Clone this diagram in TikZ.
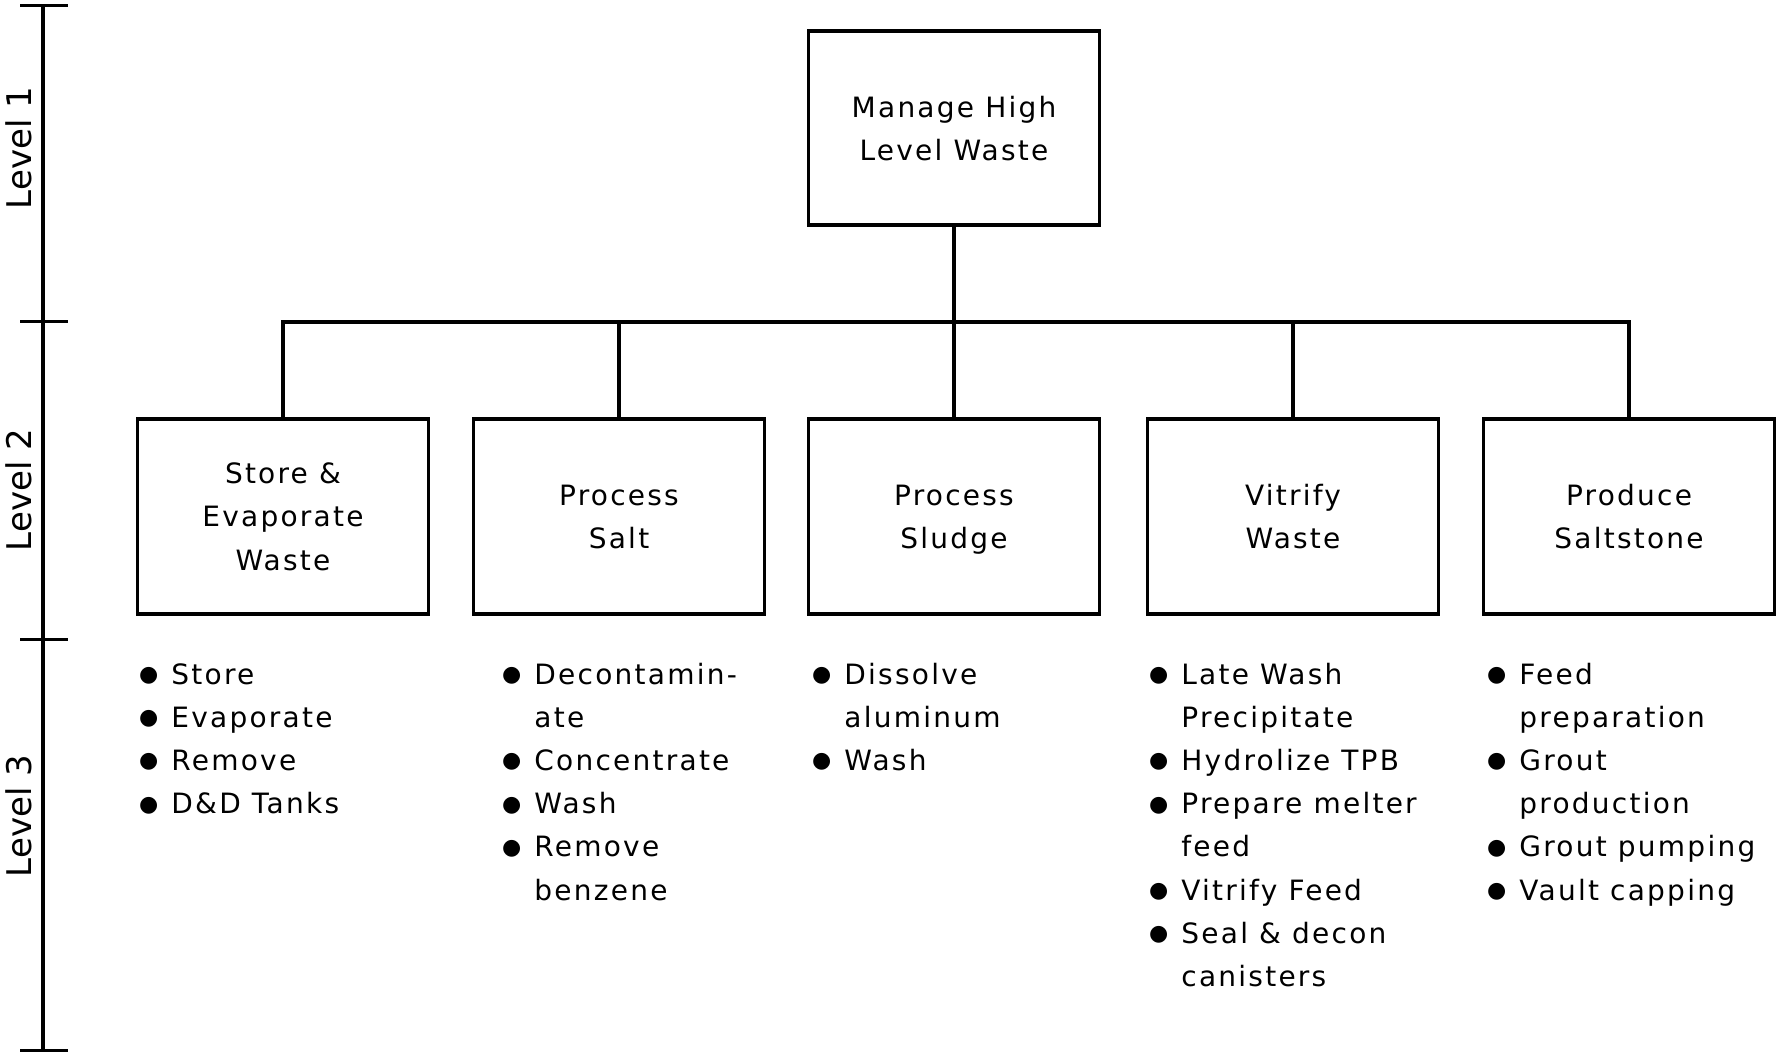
\documentclass[tikz,border=0pt]{standalone}
\usepackage{fontspec}
\setmainfont{DejaVu Sans}[LetterSpace=8]
\newfontfamily\lvlfont{DejaVu Sans}
\newfontfamily\bulfont{DejaVu Sans}
\newcommand{\bul}{\llap{\raisebox{1.3pt}{\bulfont\fontsize{11}{11}\selectfont ●}\hspace{6.5pt}}}
\newcommand{\bitem}[1]{\noindent\bul #1\par}
\newcommand{\citem}[1]{\noindent #1\par}
\newcommand{\listfont}{\fontsize{14}{21.6}\selectfont}
\tikzset{
  box/.style={draw, line width=1.8pt, minimum width=145.5pt, minimum height=97.5pt,
              align=center, inner sep=0pt, text depth=0pt, font=\fontsize{14}{21.6}\selectfont},
  conn/.style={line width=1.8pt},
  axisline/.style={line width=1.8pt},
  tick/.style={line width=1.5pt},
  lvl/.style={rotate=90, anchor=base, inner sep=0pt, font=\lvlfont\fontsize{17}{17}\selectfont},
  listnode/.style={anchor=base west, inner sep=0pt}
}
\begin{document}
\begin{tikzpicture}[x=0.5pt, y=-0.5pt]
\useasboundingbox (0,0) rectangle (1776,1053);
% left scale
\coordinate (a0) at (43,6);
\coordinate (a3) at (43,1050);
\draw[axisline] (a0) -- (a3);
\draw[tick] (20,6) -- (68,6);
\draw[tick] (20,322) -- (68,322);
\draw[tick] (20,639) -- (68,639);
\draw[tick] (20,1050) -- (68,1050);
\node[lvl] (lv1) at (32,148) {Level 1};
\node[lvl] (lv2) at (32,490) {Level 2};
\node[lvl] (lv3) at (32,816) {Level 3};
% boxes
\node[box, minimum height=97pt] (top) at (954,128) {Manage High\\Level Waste};
\node[box] (b1) at (283,516.5) {Store \&\\Evaporate\\Waste};
\node[box] (b2) at (619,516.5) {Process\\Salt};
\node[box] (b3) at (954,516.5) {Process\\Sludge};
\node[box] (b4) at (1293,516.5) {Vitrify\\Waste};
\node[box] (b5) at (1629,516.5) {Produce\\Saltstone};
% connectors
\coordinate (bar) at (954,322);
\draw[conn] (top.south) -- (bar);
\draw[conn] (b1.north) |- (bar) -| (b5.north);
\draw[conn] (b2.north) -- (b2.north |- bar);
\draw[conn] (b3.north) -- (b3.north |- bar);
\draw[conn] (b4.north) -- (b4.north |- bar);
% lists
\node[listnode] (l1) at (171,684) {\parbox[t]{160pt}{\listfont
  \bitem{Store}\bitem{Evaporate}\bitem{Remove}\bitem{D\&D Tanks}}};
\node[listnode] (l2) at (534,684) {\parbox[t]{160pt}{\listfont
  \bitem{Decontamin-}\citem{ate}\bitem{Concentrate}\bitem{Wash}\bitem{Remove}\citem{benzene}}};
\node[listnode] (l3) at (844,684) {\parbox[t]{160pt}{\listfont
  \bitem{Dissolve}\citem{aluminum}\bitem{Wash}}};
\node[listnode] (l4) at (1181,684) {\parbox[t]{160pt}{\listfont
  \bitem{Late Wash}\citem{Precipitate}\bitem{Hydrolize TPB}\bitem{Prepare melter}\citem{feed}\bitem{Vitrify Feed}\bitem{Seal \& decon}\citem{canisters}}};
\node[listnode] (l5) at (1519,684) {\parbox[t]{128pt}{\listfont
  \bitem{Feed}\citem{preparation}\bitem{Grout}\citem{production}\bitem{Grout pumping}\bitem{Vault capping}}};
\end{tikzpicture}
\end{document}
